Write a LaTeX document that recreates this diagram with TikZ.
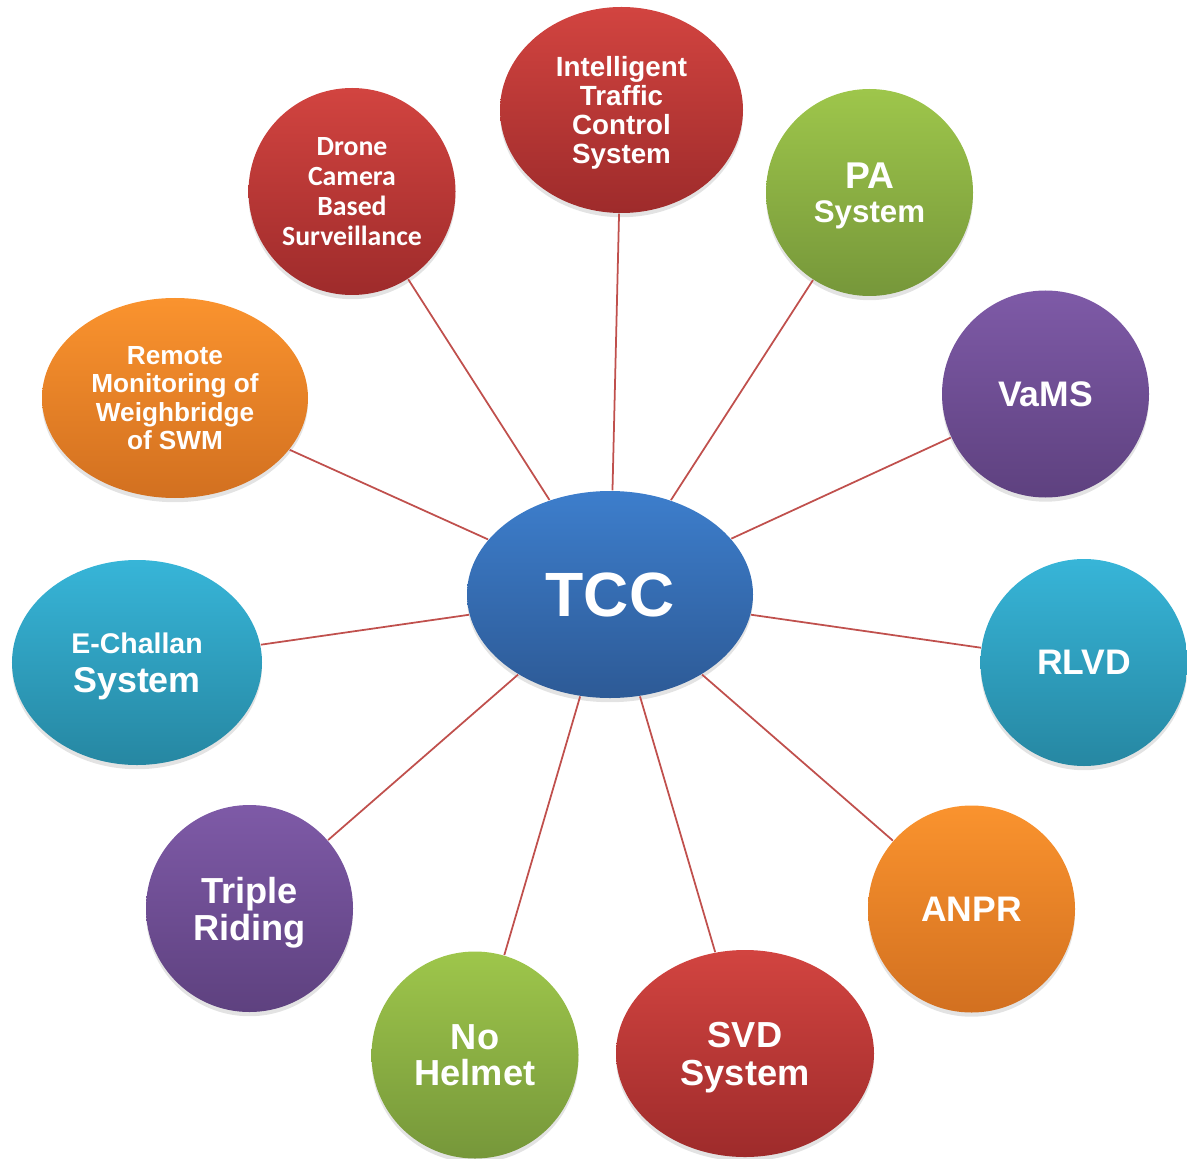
\documentclass[tikz,border=0pt]{standalone}
\usepackage{fontspec}
\setmainfont{Liberation Sans}
\newfontfamily\dronefont{Carlito}
\usetikzlibrary{shapes.geometric,shadows}

\definecolor{redtop}{RGB}{210,68,64}
\definecolor{redbot}{RGB}{158,43,43}
\definecolor{bluetop}{RGB}{61,126,204}
\definecolor{bluebot}{RGB}{45,90,150}
\definecolor{greentop}{RGB}{158,198,75}
\definecolor{greenbot}{RGB}{118,151,58}
\definecolor{purpletop}{RGB}{126,90,167}
\definecolor{purplebot}{RGB}{94,65,127}
\definecolor{cyantop}{RGB}{55,181,216}
\definecolor{cyanbot}{RGB}{38,135,162}
\definecolor{orangetop}{RGB}{250,147,46}
\definecolor{orangebot}{RGB}{210,112,32}
\definecolor{linkred}{RGB}{192,80,77}

\newcommand{\fsz}[2]{\fontsize{#1}{#2}\selectfont}

\begin{document}
\begin{tikzpicture}[
    bubble/.style={ellipse, inner sep=0pt, text=white, align=center, text depth=0pt,
      font=\bfseries, minimum width=2.07cm, minimum height=2.07cm,
      drop shadow={shadow xshift=0pt, shadow yshift=-1.2pt, opacity=0.22}},
    sz/.style 2 args={font=\bfseries\fsz{#1}{#2}},
    redb/.style={bubble, top color=redtop, bottom color=redbot},
    blueb/.style={bubble, top color=bluetop, bottom color=bluebot},
    greenb/.style={bubble, top color=greentop, bottom color=greenbot},
    purpleb/.style={bubble, top color=purpletop, bottom color=purplebot},
    cyanb/.style={bubble, top color=cyantop, bottom color=cyanbot},
    orangeb/.style={bubble, top color=orangetop, bottom color=orangebot},
    link/.style={draw=linkred, line width=0.5pt}]
  \useasboundingbox (0,0) rectangle (11.87,-11.58);

  % Nodes
  \node[blueb, sz={17.8}{20}, minimum width=2.86cm] (tcc) at (6.10,-5.945) {TCC};
  \node[redb, sz={7.9}{8.3}, minimum width=2.43cm, minimum height=2.06cm] (itcs)
    at (6.215,-1.10) {Intelligent\\Traffic\\Control\\System};
  \node[greenb, sz={8.9}{9.7}] (pa) at (8.695,-1.925) {\fsz{10.6}{9.7}PA\\System};
  \node[purpleb, sz={10.1}{11}] (vams) at (10.455,-3.94) {VaMS};
  \node[cyanb, sz={10.1}{11}] (rlvd) at (10.84,-6.625) {RLVD};
  \node[orangeb, sz={10.1}{11}] (anpr) at (9.715,-9.09) {ANPR};
  \node[redb, sz={10.3}{10.8}, minimum width=2.58cm] (svd) at (7.45,-10.535) {SVD\\System};
  \node[greenb, sz={10.3}{10.2}] (helmet) at (4.75,-10.55) {No\\Helmet};
  \node[purpleb, sz={10.3}{10.5}] (triple) at (2.495,-9.085) {Triple\\Riding};
  \node[cyanb, sz={10.2}{11.1}, minimum width=2.50cm, minimum height=2.05cm] (echallan)
    at (1.37,-6.625) {\fsz{8.1}{11.1}E-Challan\\System};
  \node[orangeb, sz={7.45}{8.05}, minimum width=2.66cm, minimum height=2.0cm] (remote)
    at (1.75,-3.98) {Remote\\Monitoring of\\Weighbridge\\of SWM};
  \node[redb, font=\dronefont\bfseries\fsz{7.9}{8.5}] (drone) at (3.52,-1.915)
    {Drone\\Camera\\Based\\Surveillance};

  % Edges
  \foreach \n in {itcs,pa,vams,rlvd,anpr,svd,helmet,triple,echallan,remote,drone}
    \draw[link] (tcc) -- (\n);
\end{tikzpicture}
\end{document}
